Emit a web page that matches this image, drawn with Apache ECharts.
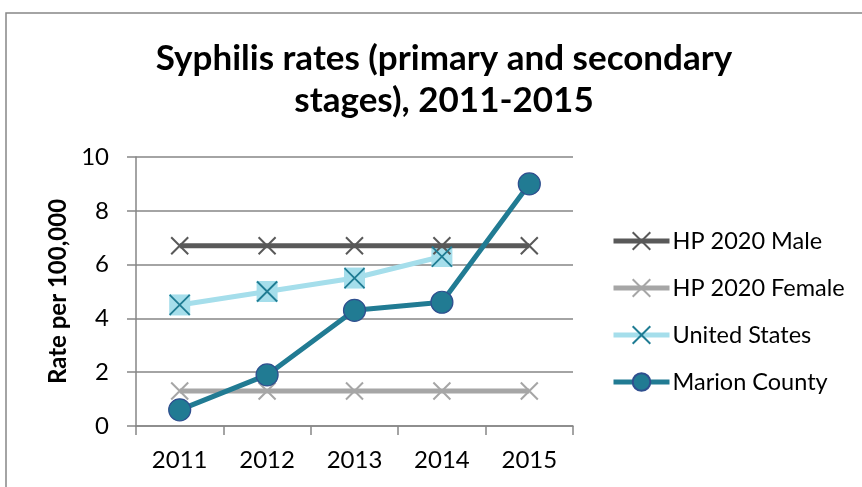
<!DOCTYPE html>
<html>
<head>
<meta charset="utf-8">
<script src="https://cdn.jsdelivr.net/npm/echarts@6/dist/echarts.min.js"></script>
<style>
  html, body { margin: 0; padding: 0; background: #fff; }
  #chart { width: 862px; height: 487px; }
</style>
</head>
<body>
<div id="chart"></div>
<script>
// 数据
var years = ['2011', '2012', '2013', '2014', '2015'];
var hpMale = [6.7, 6.7, 6.7, 6.7, 6.7];
var hpFemale = [1.3, 1.3, 1.3, 1.3, 1.3];
var unitedStates = [4.5, 5.0, 5.5, 6.3, null];
var marionCounty = [0.6, 1.9, 4.3, 4.6, 9.0];
var yTicks = [0, 2, 4, 6, 8, 10];

var chart = echarts.init(document.getElementById('chart'));
var xPath = 'path://M0,0L10,10M10,0L0,10';
var font = 'Lato, "Open Sans", sans-serif';

var option = {
    animation: false,
    textStyle: { fontFamily: font },
    title: {
        text: 'Syphilis rates (primary and secondary\nstages), 2011-2015',
        left: 439,
        top: 33,
        textAlign: 'center',
        textStyle: { fontSize: 35, fontWeight: 'bold', color: '#000', lineHeight: 42, fontFamily: font }
    },
    graphic: [{
        type: 'rect',
        shape: { x: 6, y: 13, width: 900, height: 520 },
        style: { fill: 'none', stroke: '#878787', lineWidth: 1.5 },
        silent: true
    }],
    legend: {
        orient: 'vertical',
        left: 611,
        top: 229,
        padding: 0,
        itemGap: 23,
        itemWidth: 56,
        itemHeight: 22,
        lineStyle: { width: 5 },
        data: ['HP 2020 Male', 'HP 2020 Female', 'United States', 'Marion County'],
        textStyle: { fontSize: 23.5, lineHeight: 22, color: '#000', fontFamily: font, padding: [0, 0, 0, -2] }
    },
    grid: { left: 136, right: 289, top: 157, bottom: 61, containLabel: false },
    xAxis: {
        type: 'category',
        data: years,
        boundaryGap: true,
        axisLine: { lineStyle: { color: '#868686', width: 1.5 } },
        axisTick: { show: true, length: 9, lineStyle: { color: '#868686', width: 1.5 } },
        axisLabel: { fontSize: 24, color: '#000', margin: 22 }
    },
    yAxis: {
        type: 'value',
        min: yTicks[0],
        max: yTicks[yTicks.length - 1],
        interval: 2,
        name: 'Rate per 100,000',
        nameLocation: 'middle',
        nameGap: 56,
        nameTextStyle: { fontSize: 24, fontWeight: 'bold', color: '#000' },
        axisLine: { show: true, lineStyle: { color: '#868686', width: 1.5 } },
        axisTick: { show: true, length: 9, lineStyle: { color: '#868686', width: 1.5 } },
        axisLabel: { fontSize: 24, color: '#000', margin: 27 },
        splitLine: { lineStyle: { color: '#868686', width: 1.5 } }
    },
    series: [{
        name: 'HP 2020 Male',
        type: 'line',
        data: hpMale,
        symbol: xPath,
        symbolSize: 17,
        lineStyle: { color: '#595959', width: 5 },
        itemStyle: { color: '#595959', borderColor: '#595959', borderWidth: 2 }
    }, {
        name: 'HP 2020 Female',
        type: 'line',
        data: hpFemale,
        symbol: xPath,
        symbolSize: 17,
        lineStyle: { color: '#A6A6A6', width: 5 },
        itemStyle: { color: '#A6A6A6', borderColor: '#A6A6A6', borderWidth: 2 }
    }, {
        name: 'US box',
        type: 'line',
        data: unitedStates,
        symbol: 'rect',
        symbolSize: 21,
        lineStyle: { width: 0, opacity: 0 },
        itemStyle: { color: '#A5DEEB' },
        z: 2
    }, {
        name: 'United States',
        type: 'line',
        data: unitedStates,
        symbol: xPath,
        symbolSize: 20,
        lineStyle: { color: '#A5DEEB', width: 5 },
        itemStyle: { color: '#1F7C93', borderColor: '#1F7C93', borderWidth: 1.8 },
        z: 1
    }, {
        name: 'US cross',
        type: 'line',
        data: unitedStates,
        symbol: xPath,
        symbolSize: 20,
        lineStyle: { width: 0, opacity: 0 },
        itemStyle: { color: '#1F7C93', borderColor: '#1F7C93', borderWidth: 1.8 },
        z: 3
    }, {
        name: 'Marion County',
        type: 'line',
        data: marionCounty,
        symbol: 'circle',
        symbolSize: 22,
        lineStyle: { color: '#217B93', width: 5 },
        itemStyle: { color: '#217B93', borderColor: '#2F4F8F', borderWidth: 1.2 },
        z: 4
    }]
};
chart.setOption(option);
</script>
</body>
</html>
